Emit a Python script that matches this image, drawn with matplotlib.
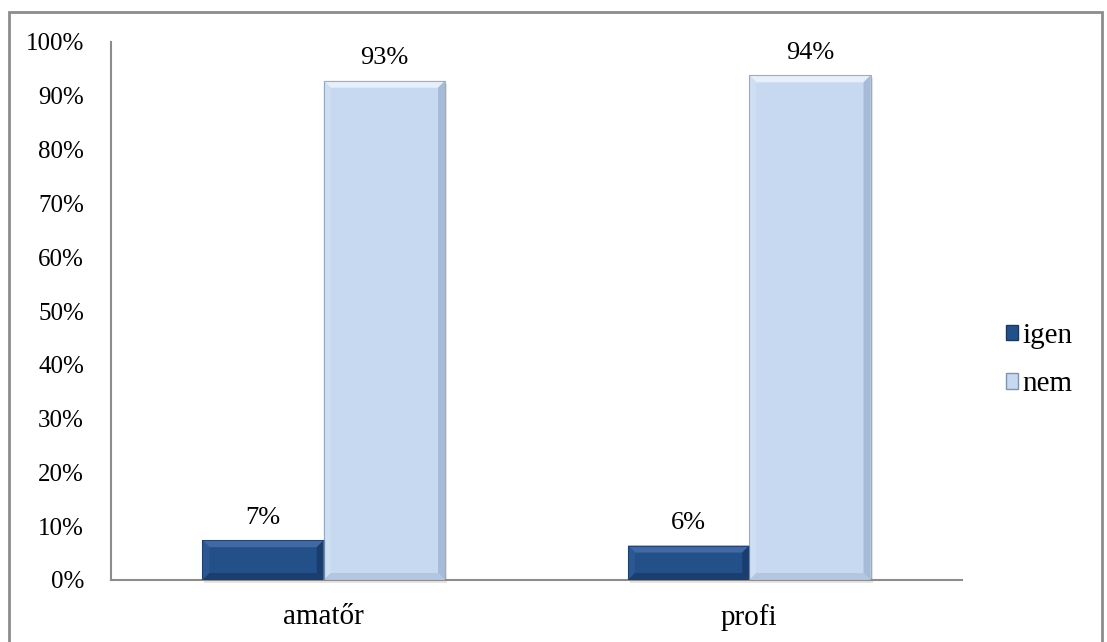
import matplotlib
matplotlib.use("Agg")
import matplotlib.pyplot as plt
from matplotlib.patches import Polygon, Rectangle, Patch
import numpy as np

categories = ["amatőr", "profi"]
series_names = ["igen", "nem"]
igen = [7.4, 6.4]
nem = [92.8, 93.8]
labels_igen = ["7%", "6%"]
labels_nem = ["93%", "94%"]
yticks = [0, 10, 20, 30, 40, 50, 60, 70, 80, 90, 100]

plt.rcParams["font.family"] = ["Liberation Serif", "DejaVu Serif"]

W, H = 1107, 642
fig = plt.figure(figsize=(W / 100, H / 100), dpi=100)
ax = fig.add_axes([111 / W, 1 - 580 / H, (962 - 111) / W, (580 - 42) / H])

x = np.arange(len(categories))
bw = 0.285
ax.set_xlim(-0.5, len(categories) - 0.5)
ax.set_ylim(0, 100)

styles = {
    "igen": dict(face="#24508a", top="#4169a3", left="#2b5792", right="#1a3d6f", bottom="#1b3e6e", edge="#1a3860"),
    "nem": dict(face="#c6d9f1", top="#e6effa", left="#cfdff3", right="#a6bbd8", bottom="#b2c6e1", edge="#8093ad"),
}

ax_w_px = (962 - 111)
ax_h_px = (580 - 42)
px_x = 1.0 / ax_w_px * 2.0
px_y = 1.0 / ax_h_px * 100.0
bev = 7
FS_TICK = 18
FS_LAB = 19
FS_CAT = 21
FS_LEG = 21


def draw_bar(x0, w, h, st, label):
    ax.add_patch(Rectangle((x0 + 2 * px_x, -3 * px_y), w, h, facecolor="#000000", alpha=0.10,
                           edgecolor="none", zorder=1, clip_on=False))
    ax.add_patch(Rectangle((x0, 0), w, h, facecolor=st["face"], edgecolor="none", zorder=2))
    bx, by = bev * px_x, min(bev * px_y, h / 2)
    x1, y1 = x0 + w, h
    polys = [
        ([(x0, y1), (x1, y1), (x1 - bx, y1 - by), (x0 + bx, y1 - by)], st["top"]),
        ([(x0, 0), (x0, y1), (x0 + bx, y1 - by), (x0 + bx, by)], st["left"]),
        ([(x1, 0), (x1, y1), (x1 - bx, y1 - by), (x1 - bx, by)], st["right"]),
        ([(x0, 0), (x1, 0), (x1 - bx, by), (x0 + bx, by)], st["bottom"]),
    ]
    for pts, c in polys:
        ax.add_patch(Polygon(pts, closed=True, facecolor=c, edgecolor="none", zorder=3))
    ax.add_patch(Rectangle((x0, 0), w, h, facecolor="none", edgecolor=st["edge"], linewidth=0.8,
                           alpha=0.7, zorder=4))
    ax.annotate(label, (x0 + w / 2, h), xytext=(0, 11.8), textcoords="offset points",
                ha="center", va="baseline", fontsize=FS_LAB, zorder=5)


for i in range(len(categories)):
    draw_bar(x[i] - bw, bw, igen[i], styles["igen"], labels_igen[i])
    draw_bar(x[i], bw, nem[i], styles["nem"], labels_nem[i])

ax.set_yticks(yticks)
ax.set_yticklabels([f"{v}%" for v in yticks], fontsize=FS_TICK)
ax.set_xticks(x)
ax.set_xticklabels(categories, fontsize=FS_CAT)
ax.tick_params(axis="y", length=0, pad=19.5)
ax.tick_params(axis="x", length=0, pad=17)
for s in ["top", "right"]:
    ax.spines[s].set_visible(False)
for s in ["left", "bottom"]:
    ax.spines[s].set_color("#8c8c8c")
    ax.spines[s].set_linewidth(1.5)

handles = [Patch(facecolor=styles[n]["face"], edgecolor=styles[n]["edge"], linewidth=1.0) for n in series_names]
leg = fig.legend(handles, series_names, loc="center left", bbox_to_anchor=(1006 / W, 1 - 360 / H),
                 frameon=False, fontsize=FS_LEG, handlelength=0.42, handleheight=0.42,
                 handletextpad=0.15, labelspacing=0.78, borderpad=0, borderaxespad=0)

fig.add_artist(Rectangle((9 / W, -0.01), (1102 - 9) / W, 1 - 12 / H + 0.01, transform=fig.transFigure,
                         facecolor="none", edgecolor="#8c8c8c", linewidth=2.0))

fig.savefig("out.png", dpi=100)
